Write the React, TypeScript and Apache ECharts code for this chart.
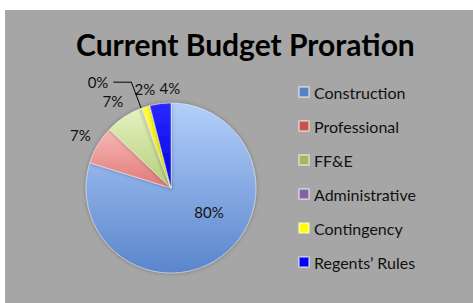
import React, { useEffect, useRef } from "react";
import * as echarts from "echarts";

const categories = ["Construction", "Professional", "FF&E", "Administrative", "Contingency", "Regents\u2019 Rules"];
const shares = [79.8, 7.3, 7.1, 0.2, 1.6, 4.0];
const legendColors = ["#5482C2", "#C9514E", "#9BBB59", "#8064A2", "#FFFF00", "#0000FF"];
const sliceTop = ["#B3CFFA", "#F7B8B5", "#E4F2C0", "#B7A3CF", "#FFFF40", "#2A2AFF"];
const sliceBottom = ["#5A85CC", "#E07976", "#B5CE78", "#9079B3", "#E6E600", "#0000E0"];
const titleText = "Current Budget Proration";
const FONT = "Lato";

function grad(i: number) {
  return new echarts.graphic.LinearGradient(0, 0, 0, 1, [
    { offset: 0, color: sliceTop[i] },
    { offset: 1, color: sliceBottom[i] },
  ]);
}

const pct = (p: any) => Math.round(p.percent) + "%";

export default function App() {
  const ref = useRef<HTMLDivElement>(null);
  useEffect(() => {
    document.body.style.margin = "0";
    const chart = echarts.init(ref.current!, null, { renderer: "svg" });
    const mainData = categories.map((name, i) => {
      const item: any = { name, value: shares[i], itemStyle: { color: grad(i) } };
      if (i === 0) {
        item.label = { show: true, position: "inside", offset: [11, -13], formatter: pct };
      } else if (i === 3) {
        item.label = { show: true, position: "outside", formatter: pct };
        item.labelLine = { show: true, length: 28, length2: 18, lineStyle: { color: "#000", width: 1 } };
      }
      return item;
    });
    const ringData = categories.map((name, i) => {
      const item: any = { name, value: shares[i] };
      if (i === 0 || i === 3) item.label = { show: false };
      if (i === 4) item.label = { show: true, offset: [5, 1] };
      if (i === 5) item.label = { show: true, offset: [12, 4] };
      return item;
    });
    chart.setOption({
      animation: false,
      backgroundColor: "#ffffff",
      graphic: [
        { type: "rect", left: 5, top: 10, shape: { width: 468, height: 293 }, style: { fill: "#A6A6A6" }, z: -10 },
      ],
      title: {
        text: titleText,
        left: 76,
        top: 29,
        padding: 0,
        textStyle: { fontFamily: FONT, fontSize: 30, fontWeight: "bold", color: "#000" },
      },
      legend: {
        orient: "vertical",
        left: 298,
        top: 84,
        padding: 0,
        itemWidth: 10,
        itemHeight: 10,
        itemGap: 18,
        icon: "rect",
        textStyle: { fontFamily: FONT, fontSize: 16, color: "#111", lineHeight: 16 },
        data: categories.map((name, i) => ({ name, itemStyle: { color: legendColors[i] } })),
      },
      series: [
        {
          type: "pie",
          center: [171, 188],
          radius: [0, 85],
          startAngle: 90,
          clockwise: true,
          avoidLabelOverlap: false,
          data: mainData,
          itemStyle: { borderColor: "rgba(255,255,255,0.45)", borderWidth: 1, shadowBlur: 4, shadowColor: "rgba(0,0,0,0.3)" },
          label: { show: false, fontFamily: FONT, fontSize: 15, color: "#111" },
          labelLine: { show: false },
          emphasis: { disabled: true },
        },
        {
          type: "pie",
          center: [171, 188],
          radius: [91, 113],
          startAngle: 90,
          clockwise: true,
          silent: true,
          avoidLabelOverlap: false,
          data: ringData,
          itemStyle: { color: "rgba(0,0,0,0)" },
          label: { show: true, position: "inside", formatter: pct, fontFamily: FONT, fontSize: 15, color: "#111" },
          labelLine: { show: false },
          labelLayout: { hideOverlap: false },
          emphasis: { disabled: true },
        },
      ],
    });
    return () => chart.dispose();
  }, []);
  return <div ref={ref} style={{ width: 473, height: 303 }} />;
}
